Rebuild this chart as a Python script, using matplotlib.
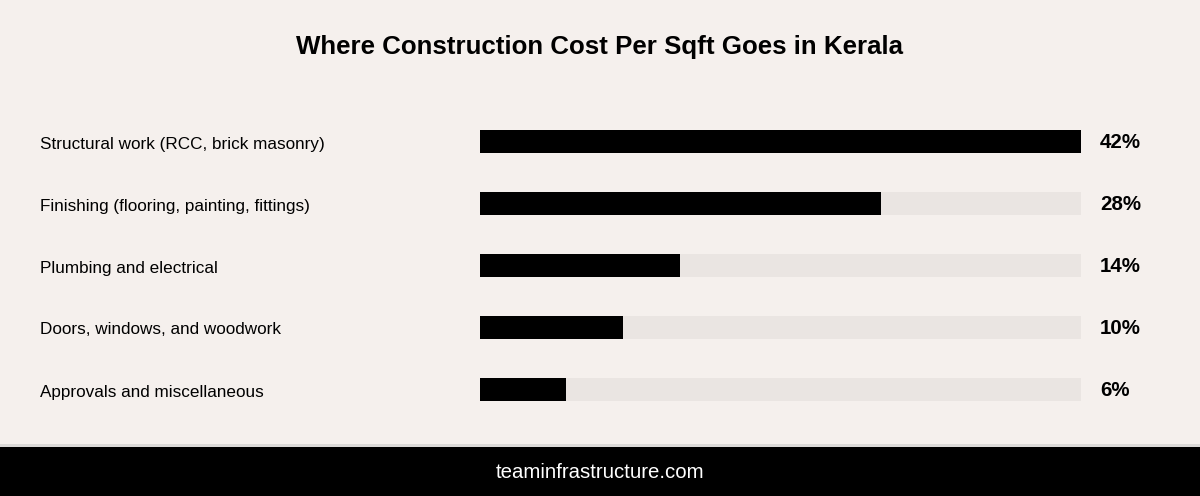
import matplotlib
matplotlib.use("Agg")
import matplotlib.pyplot as plt
from matplotlib.patches import Rectangle
from matplotlib.transforms import offset_copy

categories = [
    "Structural work (RCC, brick masonry)",
    "Finishing (flooring, painting, fittings)",
    "Plumbing and electrical",
    "Doors, windows, and woodwork",
    "Approvals and miscellaneous",
]
values = [42, 28, 14, 10, 6]
value_labels = ["42%", "28%", "14%", "10%", "6%"]
title = "Where Construction Cost Per Sqft Goes in Kerala"
footer = "teaminfrastructure.com"

BG = "#f5f0ed"
TRACK = "#eae5e2"
FONT = ["Liberation Sans", "DejaVu Sans"]
plt.rcParams["font.family"] = FONT

W, H = 1200, 496
fig = plt.figure(figsize=(W / 100, H / 100), dpi=100, facecolor=BG)

# footer band
fig.patches.append(Rectangle((0, 0), 1, 49 / H, transform=fig.transFigure,
                             facecolor="black", edgecolor="none", zorder=0))
fig.patches.append(Rectangle((0, 49 / H), 1, 3 / H, transform=fig.transFigure,
                             facecolor="#dcdad8", edgecolor="none", zorder=0))
fig.text(0.5, 1 - 473 / H, footer, ha="center", va="center", color="white",
         fontsize=14.7)

fig.text(0.5, 1 - 47 / H, title, ha="center", va="center", fontsize=18.6,
         fontweight="bold", color="black")

ax_left = 480 / W
ax_w = 601 / W
ax_top = 110.5
ax_bot = 420.5
ax = fig.add_axes([ax_left, 1 - ax_bot / H, ax_w, (ax_bot - ax_top) / H])
ax.set_facecolor("none")
ax.set_xlim(0, max(values))
ax.set_ylim(len(categories) - 0.5, -0.5)
ax.axis("off")

ypos = list(range(len(categories)))
bh = 23 / 62
ax.barh(ypos, [max(values)] * len(values), height=bh, color=TRACK, zorder=1)
ax.barh(ypos, values, height=bh, color="black", zorder=2)

lab_tr = offset_copy(ax.transData, fig=fig, x=0, y=-2.5, units="dots")
pct_tr = offset_copy(ax.transData, fig=fig, x=0, y=-1.5, units="dots")
for y, cat, lab in zip(ypos, categories, value_labels):
    ax.text(-440 / 601 * max(values), y, cat, ha="left", va="center",
            fontsize=12.3, color="black", transform=lab_tr)
    ax.text((1100 - 480) / 601 * max(values), y, lab, ha="left",
            va="center", fontsize=14.8, fontweight="bold", color="black",
            transform=pct_tr)

fig.savefig("out.png", dpi=100, facecolor=BG)
